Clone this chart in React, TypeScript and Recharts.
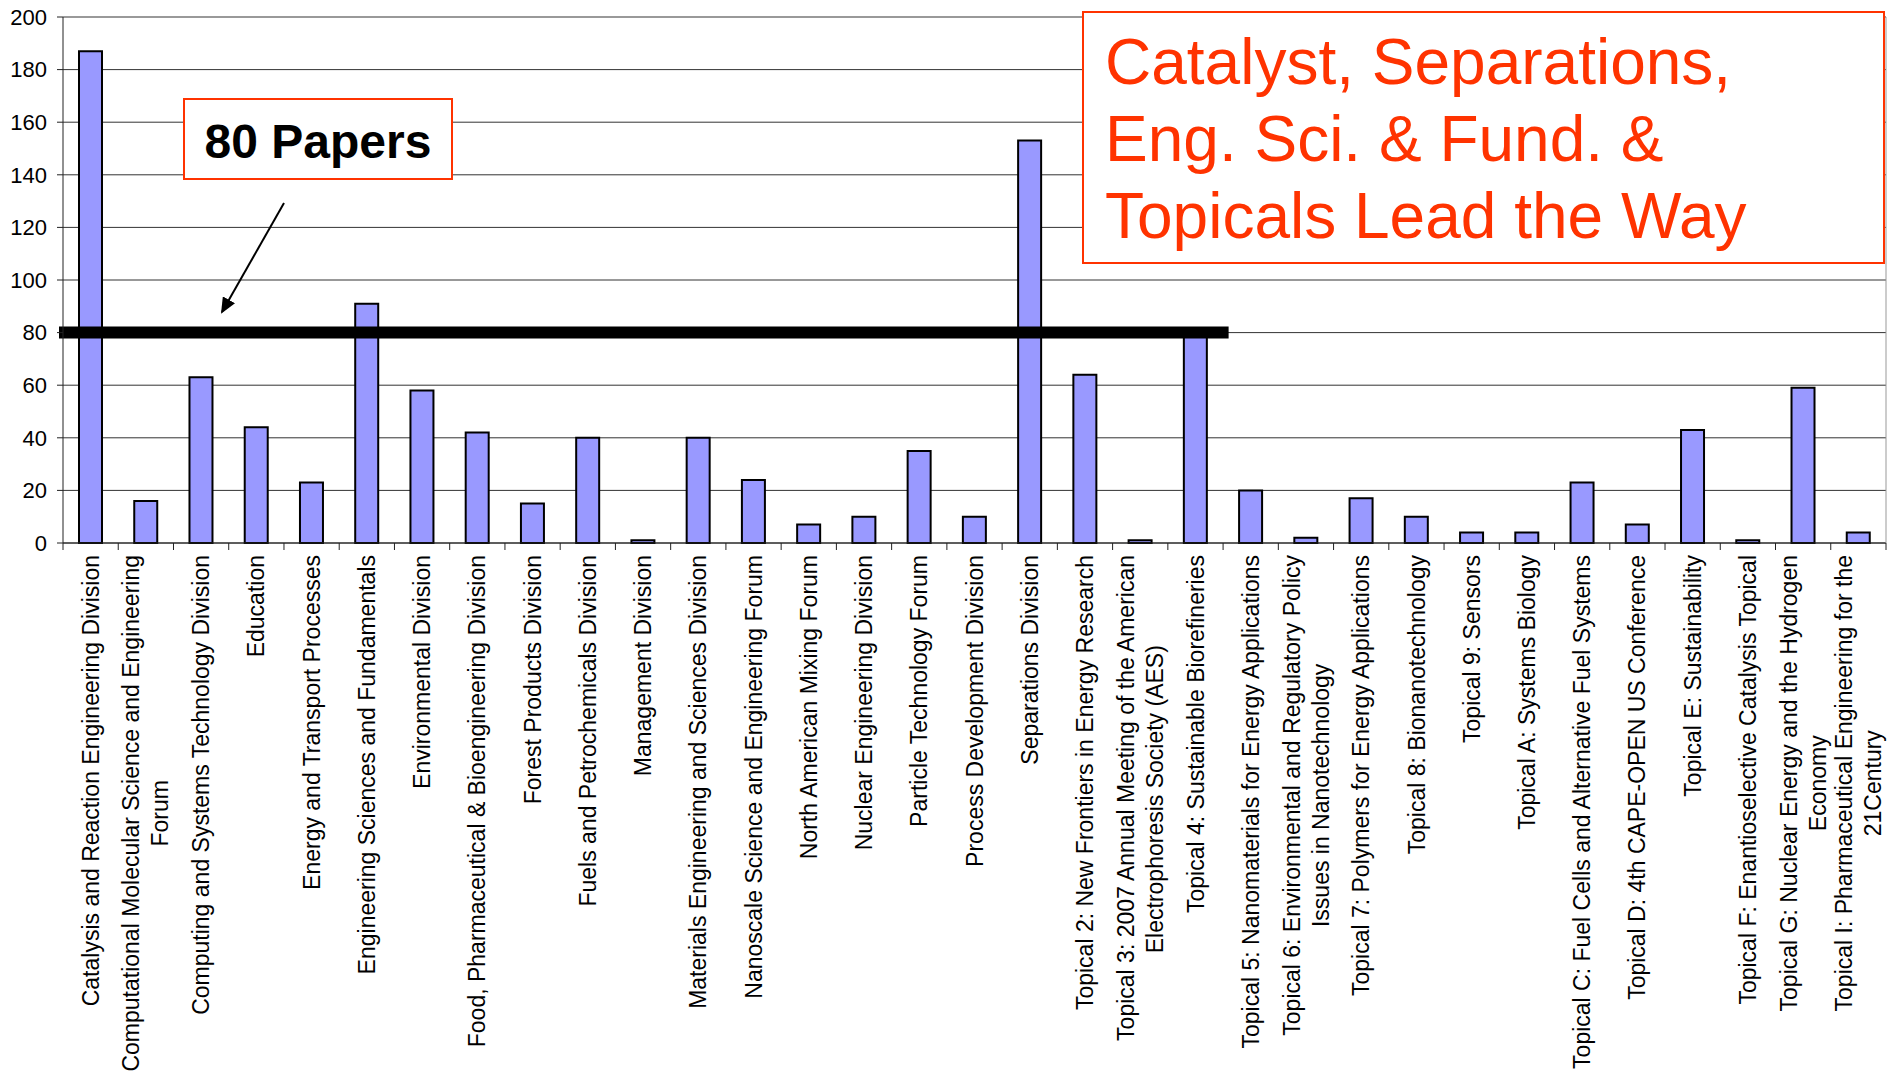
import { BarChart, Bar, XAxis, YAxis, CartesianGrid, ReferenceLine } from "recharts";

// paper counts per division / forum / topical
const CATEGORIES = [
  "Catalysis and Reaction Engineering Division",
  "Computational Molecular Science and Engineering\nForum",
  "Computing and Systems Technology Division",
  "Education",
  "Energy and Transport Processes",
  "Engineering Sciences and Fundamentals",
  "Environmental Division",
  "Food, Pharmaceutical & Bioengineering Division",
  "Forest Products Division",
  "Fuels and Petrochemicals Division",
  "Management Division",
  "Materials Engineering and Sciences Division",
  "Nanoscale Science and Engineering Forum",
  "North American Mixing Forum",
  "Nuclear Engineering Division",
  "Particle Technology Forum",
  "Process Development Division",
  "Separations Division",
  "Topical 2: New Frontiers in Energy Research",
  "Topical 3: 2007 Annual Meeting of the American\nElectrophoresis Society (AES)",
  "Topical 4: Sustainable Biorefineries",
  "Topical 5: Nanomaterials for Energy Applications",
  "Topical 6: Environmental and Regulatory Policy\nIssues in Nanotechnology",
  "Topical 7: Polymers for Energy Applications",
  "Topical 8: Bionanotechnology",
  "Topical 9: Sensors",
  "Topical A: Systems Biology",
  "Topical C: Fuel Cells and Alternative Fuel Systems",
  "Topical D: 4th CAPE-OPEN US Conference",
  "Topical E: Sustainability",
  "Topical F: Enantioselective Catalysis Topical",
  "Topical G: Nuclear Energy and the Hydrogen\nEconomy",
  "Topical I: Pharmaceutical Engineering for the\n21Century",
];

const PAPERS = [
  187, 16, 63, 44, 23, 91, 58, 42, 15, 40, 1, 40, 24, 7, 10, 35, 10, 153, 64, 1, 80,
  20, 2, 17, 10, 4, 4, 23, 7, 43, 1, 59, 4,
];

const Y_TICKS = [0, 20, 40, 60, 80, 100, 120, 140, 160, 180, 200];
const THRESHOLD = 80;

const data = CATEGORIES.map((name, i) => ({ name, value: PAPERS[i] }));

const W = 1900;
const H = 1078;
const PLOT_LEFT = 63;
const PLOT_RIGHT = 1886;
const PLOT_TOP = 17;
const PLOT_BOTTOM = 543;
const BAND = (PLOT_RIGHT - PLOT_LEFT) / CATEGORIES.length;
const FONT = '"Liberation Sans", Arial, sans-serif';
const LABEL_SIZE = 23;
const LINE_H = 29;
const RED = "#FF3300";

let ctx: CanvasRenderingContext2D | null = null;
function textWidth(s: string) {
  if (!ctx) {
    ctx = document.createElement("canvas").getContext("2d");
    if (ctx) ctx.font = `${LABEL_SIZE}px "Liberation Sans"`;
  }
  return ctx ? ctx.measureText(s).width : s.length * LABEL_SIZE * 0.5;
}

function CategoryTick(props: any) {
  const { x, y, payload, index } = props;
  const lines = String(payload.value).split("\n");
  const w1 = textWidth(lines[0]);
  const last = index === CATEGORIES.length - 1;
  return (
    <g>
      <line x1={x - BAND / 2} x2={x - BAND / 2} y1={y} y2={y + 7} stroke="#222" />
      {last && <line x1={x + BAND / 2} x2={x + BAND / 2} y1={y} y2={y + 7} stroke="#222" />}
      <g transform={`translate(${x},${y + 12}) rotate(-90)`}>
        {lines.map((ln, i) => (
          <text
            key={i}
            x={i === 0 ? 0 : -w1 / 2}
            y={(i - (lines.length - 1) / 2) * LINE_H}
            dy="0.35em"
            textAnchor={i === 0 ? "end" : "middle"}
            fontSize={LABEL_SIZE}
            fill="#000"
          >
            {ln}
          </text>
        ))}
      </g>
    </g>
  );
}

function ThresholdLine(props: any) {
  const { x1, x2, y1 } = props;
  const end = x1 + (x2 - x1) * (21.1 / CATEGORIES.length);
  return <line x1={x1 - 4} x2={end} y1={y1} y2={y1} stroke="#000" strokeWidth={12} />;
}

export default function App() {
  return (
    <div
      style={{
        position: "absolute",
        left: 0,
        top: 0,
        width: W,
        height: H,
        background: "#fff",
        fontFamily: FONT,
      }}
    >
      <BarChart
        width={W}
        height={H}
        data={data}
        margin={{ top: PLOT_TOP, right: W - PLOT_RIGHT - 1, bottom: 0, left: 0 }}
      >
        <CartesianGrid vertical={false} stroke="#333" />
        <XAxis
          dataKey="name"
          interval={0}
          height={H - PLOT_BOTTOM}
          tickSize={0}
          tickMargin={0}
          tick={<CategoryTick />}
          axisLine={{ stroke: "#222" }}
        />
        <YAxis
          domain={[0, 200]}
          ticks={Y_TICKS}
          width={PLOT_LEFT}
          tickSize={6}
          tickMargin={10}
          tick={{ fontSize: 22, fill: "#000" }}
          axisLine={{ stroke: "#222" }}
          tickLine={{ stroke: "#222" }}
        />
        <YAxis
          yAxisId="right"
          orientation="right"
          domain={[0, 200]}
          width={1}
          tick={false}
          tickLine={false}
          axisLine={{ stroke: "#999" }}
        />
        <Bar
          dataKey="value"
          fill="#9999FF"
          stroke="#000"
          strokeWidth={2}
          barSize={23}
          isAnimationActive={false}
        />
        <ReferenceLine y={200} stroke="#999" />
        <ReferenceLine y={THRESHOLD} shape={<ThresholdLine />} />
      </BarChart>

      <svg
        width={W}
        height={H}
        style={{ position: "absolute", left: 0, top: 0, pointerEvents: "none" }}
      >
        <defs>
          <marker id="arrowhead" markerWidth="8" markerHeight="7" refX="7" refY="3.5" orient="auto">
            <polygon points="0 0, 8 3.5, 0 7" fill="#000" />
          </marker>
        </defs>
        <rect x={184} y={99} width={268} height={80} fill="#fff" stroke={RED} strokeWidth={2} />
        <text x={318} y={158} textAnchor="middle" fontSize={48} fontWeight="bold" fill="#000">
          80 Papers
        </text>
        <line
          x1={284}
          y1={203}
          x2={222}
          y2={312}
          stroke="#000"
          strokeWidth={2}
          markerEnd="url(#arrowhead)"
        />
        <rect x={1083} y={12} width={801} height={251} fill="#fff" stroke={RED} strokeWidth={2} />
        <text x={1105} y={84} fontSize={64} fill={RED}>
          Catalyst, Separations,
        </text>
        <text x={1105} y={161} fontSize={64} fill={RED}>
          Eng. Sci. &amp; Fund. &amp;
        </text>
        <text x={1105} y={238} fontSize={64} fill={RED}>
          Topicals Lead the Way
        </text>
      </svg>
    </div>
  );
}
